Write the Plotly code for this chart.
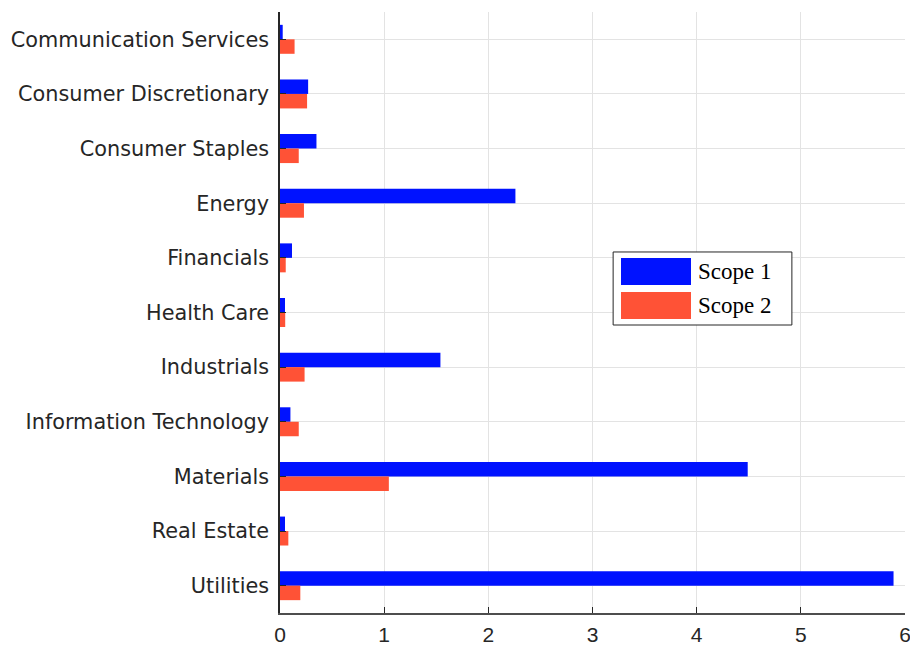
import plotly.graph_objects as go

categories = ["Communication Services", "Consumer Discretionary", "Consumer Staples",
              "Energy", "Financials", "Health Care", "Industrials",
              "Information Technology", "Materials", "Real Estate", "Utilities"]
scope1 = [0.026, 0.27, 0.35, 2.26, 0.115, 0.048, 1.54, 0.10, 4.49, 0.048, 5.89]
scope2 = [0.14, 0.26, 0.18, 0.23, 0.055, 0.05, 0.236, 0.18, 1.045, 0.08, 0.195]
series_names = ["Scope 1", "Scope 2"]
colors = ["#0012ff", "#ff5236"]
x_ticks = [0, 1, 2, 3, 4, 5, 6]

fig = go.Figure()
for name, vals, c in zip(series_names, [scope1, scope2], colors):
    fig.add_trace(go.Bar(y=categories, x=vals, name=name, orientation="h",
                         marker=dict(color=c, line=dict(width=0)), showlegend=False))

fig.update_layout(
    width=910, height=648,
    margin=dict(l=280, r=5, t=12, b=35),
    plot_bgcolor="white", paper_bgcolor="white",
    barmode="group", bargap=0.47, bargroupgap=0,
    font=dict(family="DejaVu Sans, Liberation Sans, sans-serif", size=20.8, color="#262626"),
)
fig.update_xaxes(range=[0, 6], tickvals=x_ticks, showgrid=True, gridcolor="#e3e3e3",
                 gridwidth=1, ticks="inside", ticklen=6, tickcolor="#262626",
                 showline=True, linecolor="#4d4d4d", linewidth=1.5, zeroline=False,
                 ticklabeloverflow="allow", ticklabelstandoff=2, automargin=False,
                 tickfont=dict(family="Liberation Sans, Arial, sans-serif", size=21, color="#262626"))
fig.update_yaxes(categoryorder="array", categoryarray=categories, autorange="reversed",
                 showgrid=True, gridcolor="#e3e3e3", gridwidth=1,
                 ticks="inside", ticklen=6, tickcolor="#262626",
                 showline=True, linecolor="#262626", linewidth=1.5, zeroline=False,
                 ticklabelstandoff=5, automargin=False,
                 tickfont=dict(size=20.8, color="#262626"))

# legend box (drawn manually to match the large swatches)
x0, x1 = 0.533, 0.819
y_top, y_bot = 0.6007, 0.4792
fig.add_shape(type="rect", xref="paper", yref="paper", x0=x0, x1=x1, y0=y_bot, y1=y_top,
              line=dict(color="#262626", width=1), fillcolor="white", layer="above")
sw_x0, sw_x1 = (621 - 280) / 625, (691 - 280) / 625
rows = [(258, 285), (292, 319)]
for (ya, yb), name, c in zip(rows, series_names, colors):
    fig.add_shape(type="rect", xref="paper", yref="paper", x0=sw_x0, x1=sw_x1,
                  y0=1 - (yb - 12) / 601, y1=1 - (ya - 12) / 601,
                  line=dict(width=0), fillcolor=c, layer="above")
    fig.add_annotation(xref="paper", yref="paper", x=(696 - 280) / 625,
                       y=1 - ((ya + yb) / 2 - 12) / 601, text=name, showarrow=False,
                       xanchor="left", yanchor="middle",
                       font=dict(family="Liberation Serif, DejaVu Serif, serif", size=23, color="black"))

fig.write_html("out.html", config={"displayModeBar": False})

# remove default page margin so the figure sits at the window's top-left corner
with open("out.html", "r", encoding="utf-8") as f:
    html = f.read()
html = html.replace("<head>", "<head><style>html,body{margin:0;padding:0;overflow:hidden;}</style>", 1)
with open("out.html", "w", encoding="utf-8") as f:
    f.write(html)
